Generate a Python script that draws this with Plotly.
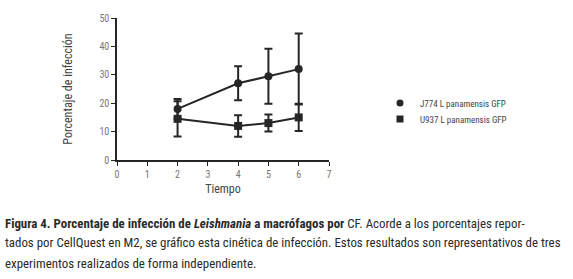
import plotly.graph_objects as go

tiempo = [2, 4, 5, 6]
j774_vals = [18, 27, 29.5, 32]
j774_err = [3.5, 6, 9.7, 12.5]
u937_vals = [14.5, 12, 13, 15]
u937_err = [6.2, 3.8, 3, 4.8]
series_names = ["J774 L panamensis GFP", "U937 L panamensis GFP"]
x_ticks = [0, 1, 2, 3, 4, 5, 6, 7]
y_ticks = [0, 10, 20, 30, 40, 50]

caption_lines = [
    "<b>Figura 4. Porcentaje de infección de <i>Leishmania</i> a macrófagos por</b> CF. Acorde a los porcentajes repor-",
    "tados por CellQuest en M2, se gráfico esta cinética de infección. Estos resultados son representativos de tres",
    "experimentos realizados de forma independiente.",
]

FONT = "Roboto Condensed, Liberation Sans Narrow, DejaVu Sans Condensed, sans-serif"
ink = "#262626"

plot_top, plot_bottom = 18, 160
plot_left, plot_right = 117, 329
ph = plot_bottom - plot_top
pw = plot_right - plot_left

def py(pix):
    return (plot_bottom - pix) / ph

def px(pix):
    return (pix - plot_left) / pw

fig = go.Figure()
symbols = ["circle", "square"]
vals = [j774_vals, u937_vals]
errs = [j774_err, u937_err]
legend_ids = ["legend", "legend2"]
for name, sym, v, e, lg in zip(series_names, symbols, vals, errs, legend_ids):
    fig.add_trace(go.Scatter(
        x=tiempo, y=v, name=name, mode="lines+markers", showlegend=False,
        line=dict(color=ink, width=2),
        marker=dict(symbol=sym, size=8, color=ink),
        error_y=dict(type="data", array=e, color=ink, thickness=2, width=4),
    ))
    # legend entry showing the marker only
    fig.add_trace(go.Scatter(
        x=[None], y=[None], name=name, mode="markers", showlegend=True, legend=lg,
        marker=dict(symbol=sym, size=7, color=ink),
    ))

annotations = []
for line, ypix in zip(caption_lines, [223, 243, 263]):
    annotations.append(dict(
        text=line, xref="paper", yref="paper",
        x=px(3), y=py(ypix), xanchor="left", yanchor="middle",
        showarrow=False, font=dict(family=FONT, size=12.9, color="#2a2a2a"),
    ))

legend_style = dict(xanchor="left", yanchor="middle",
                    font=dict(family=FONT, size=9, color="#444"),
                    bgcolor="rgba(0,0,0,0)", itemwidth=30)

fig.update_layout(
    width=573, height=279,
    margin=dict(l=plot_left, r=573 - plot_right, t=plot_top, b=279 - plot_bottom, pad=0, autoexpand=False),
    paper_bgcolor="white", plot_bgcolor="white",
    font=dict(family=FONT, color="#555", size=10),
    showlegend=True,
    legend=dict(x=px(380), y=py(103), **legend_style),
    legend2=dict(x=px(380), y=py(119), **legend_style),
    xaxis=dict(range=[0, 7], tickvals=x_ticks, showline=True, linecolor=ink, linewidth=1.5,
               ticks="outside", ticklen=4, tickcolor=ink, showgrid=False, zeroline=False,
               automargin=False,
               tickfont=dict(size=10, color="#777"),
               title=dict(text="Tiempo", font=dict(size=12, color="#444"), standoff=6)),
    yaxis=dict(range=[0, 50], tickvals=y_ticks, showline=True, linecolor=ink, linewidth=1.5,
               ticks="outside", ticklen=4, tickcolor=ink, showgrid=False, zeroline=False,
               automargin=False,
               tickfont=dict(size=10, color="#777"),
               title=dict(text="Porcentaje de infección", font=dict(size=12, color="#444"), standoff=24)),
    annotations=annotations,
)
fig.write_html("out.html", config={"displayModeBar": False},
               post_script="document.body.style.margin='0';")
